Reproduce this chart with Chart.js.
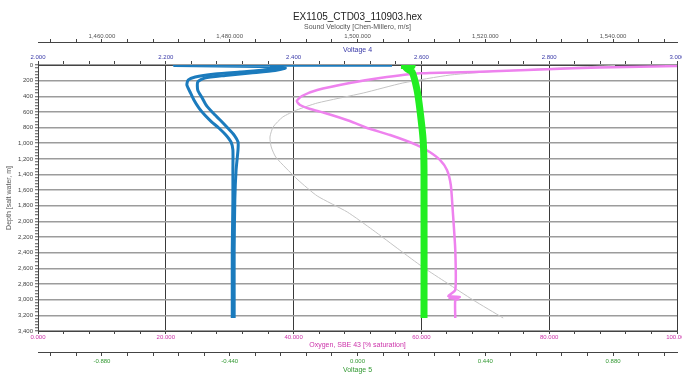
<!DOCTYPE html>
<html>
<head>
<meta charset="utf-8">
<title>EX1105_CTD03_110903.hex</title>
<script src="https://cdn.jsdelivr.net/npm/chart.js@4.4.1/dist/chart.umd.min.js"></script>
<style>
  html, body { margin: 0; padding: 0; background: #fff; overflow: hidden; }
  #wrap { width: 682px; height: 374px; overflow: hidden; }
</style>
</head>
<body>
<div id="wrap"><canvas id="ctdChart" width="700" height="374"></canvas></div>
<script>
// CTD cast profile: several sensors against depth

// Voltage 4 (blue), down and up cast
const v4DepthA = [4, 6, 19, 38, 64, 89, 115, 153, 192, 256, 345, 447, 550, 639, 729, 805, 895, 984, 1086, 1342, 1726, 2365, 3004, 3234];
const v4ValA = [2.554, 2.214, 2.347, 2.379, 2.355, 2.316, 2.277, 2.246, 2.235, 2.233, 2.238, 2.244, 2.252, 2.261, 2.272, 2.283, 2.294, 2.302, 2.305, 2.305, 2.305, 2.304, 2.304, 2.304];
const v4DepthB = [13, 38, 70, 102, 134, 166, 217, 320, 422, 524, 614, 703, 805, 895, 984, 1086, 1342, 1726, 2365, 3004, 3234];
const v4ValB = [2.363, 2.387, 2.371, 2.332, 2.293, 2.261, 2.250, 2.250, 2.257, 2.264, 2.274, 2.285, 2.297, 2.307, 2.313, 2.313, 2.310, 2.308, 2.307, 2.307, 2.307];

// Voltage 5 (green)
const v5Depth = [6, 13, 38, 89, 320, 575, 959, 1342, 3234];
const v5Val = [0.150, 0.188, 0.167, 0.188, 0.205, 0.215, 0.226, 0.229, 0.229];

// Oxygen, SBE 43 (% saturation)
const oxDepth = [13, 32, 55, 86, 106, 166, 230, 320, 396, 460, 511, 562, 614, 716, 805, 895, 1023, 1112, 1214, 1342, 1534, 1853, 2365, 2876, 2953, 2965, 2978, 2991, 3004, 3234];
const oxVal = [100.5, 87.9, 79.7, 69.2, 59.8, 53.5, 48.8, 43.7, 41.3, 40.5, 41.0, 42.6, 44.9, 48.8, 51.5, 55.1, 59.3, 61.3, 62.9, 64.0, 64.6, 64.9, 65.3, 65.3, 64.2, 66.0, 64.4, 65.8, 65.3, 65.3];

// Sound velocity (Chen-Millero, m/s)
const svDepth = [6, 38, 77, 128, 230, 358, 486, 575, 665, 792, 920, 1048, 1176, 1317, 1470, 1674, 1879, 2109, 2365, 2582, 2786, 3004, 3234];
const svVal = [1540.3, 1531.7, 1522.3, 1514.5, 1507.1, 1500.9, 1493.7, 1490.5, 1488.3, 1486.8, 1486.3, 1486.5, 1487.2, 1488.8, 1490.7, 1493.7, 1498.4, 1502.4, 1506.6, 1510.2, 1514.0, 1518.1, 1522.8];

// labelled ticks per axis
const svTicks = [1460, 1480, 1500, 1520, 1540];
const v4Ticks = [2.0, 2.2, 2.4, 2.6, 2.8, 3.0];
const oxTicks = [0, 20, 40, 60, 80, 100];
const v5Ticks = [-0.88, -0.44, 0, 0.44, 0.88];
const depthTicks = [0, 200, 400, 600, 800, 1000, 1200, 1400, 1600, 1800, 2000, 2200, 2400, 2600, 2800, 3000, 3200, 3400];

Chart.defaults.font.family = "'Liberation Sans', Arial, sans-serif";

const pts = (xs, ys) => xs.map((x, i) => ({ x: x, y: ys[i] }));

// labelled ticks plus 4 unlabelled ones in every gap
function tickList(majors, step, min, max) {
    const out = [];
    for (let v = majors[0]; v >= min - 1e-9; v -= step) out.unshift(v);
    for (let k = 1; ; k++) {
        const v = majors[0] + k * step;
        if (v > max + 1e-9) break;
        out.push(v);
    }
    return out.map(v => {
        const r = Math.round(v * 1e6) / 1e6;
        return { value: Math.abs(r) < 1e-9 ? 0 : r };
    });
}
const isMajor = (v, majors) => majors.some(m => Math.abs(m - v) < 1e-6);
const fmt3 = v => (Math.abs(v) < 1e-9 ? 0 : v).toLocaleString('en-US', { minimumFractionDigits: 3, maximumFractionDigits: 3 });

function xAxis(o) {
    return {
        type: 'linear',
        position: o.position,
        weight: o.weight,
        min: o.min,
        max: o.max,
        afterBuildTicks: axis => { axis.ticks = tickList(o.majors, o.step, o.min, o.max); },
        afterFit: axis => { axis.height = o.height; },
        grid: {
            drawOnChartArea: !!o.gridOn,
            color: ctx => (ctx.tick && isMajor(ctx.tick.value, o.majors)) ? '#3a3a3a' : 'rgba(0,0,0,0)',
            lineWidth: 1,
            tickLength: o.tickLength,
            tickColor: '#444',
            tickWidth: 1
        },
        border: { color: '#444', width: 1 },
        ticks: {
            autoSkip: false,
            maxRotation: 0,
            padding: o.tickPad,
            color: o.color,
            font: { size: 6 },
            callback: v => isMajor(v, o.majors) ? fmt3(v) : ''
        },
        title: {
            display: true,
            text: o.title,
            color: o.color,
            font: { size: 7 },
            padding: o.titlePad
        }
    };
}

new Chart(document.getElementById('ctdChart'), {
    type: 'line',
    data: {
        datasets: [
            { label: 'Voltage 5', data: pts(v5Val, v5Depth), xAxisID: 'xV5', borderColor: '#22ee22', borderWidth: 7, tension: 0.2 },
            { label: 'Voltage 4', data: pts(v4ValA, v4DepthA), xAxisID: 'xV4', borderColor: '#1b7bbd', borderWidth: 3, tension: 0.2 },
            { label: 'Voltage 4 (up)', data: pts(v4ValB, v4DepthB), xAxisID: 'xV4', borderColor: '#1b7bbd', borderWidth: 3, tension: 0.2 },
            { label: 'Oxygen', data: pts(oxVal, oxDepth), xAxisID: 'xOx', borderColor: '#ee82ee', borderWidth: 2.5, tension: 0.2 },
            { label: 'Sound Velocity', data: pts(svVal, svDepth), xAxisID: 'xSv', borderColor: '#c4c4c4', borderWidth: 1, tension: 0.2 }
        ]
    },
    options: {
        responsive: false,
        animation: false,
        layout: { padding: { top: 0, left: 0, right: 23, bottom: 0 } },
        elements: { point: { radius: 0 } },
        plugins: {
            legend: { display: false },
            tooltip: { enabled: false },
            title: {
                display: true,
                fullSize: false,
                text: 'EX1105_CTD03_110903.hex',
                color: '#222',
                font: { size: 10, weight: 'normal', lineHeight: 1 },
                padding: { top: 12, bottom: 1 }
            }
        },
        scales: {
            xSv: xAxis({ position: 'top', weight: 1, min: 1450, max: 1550, majors: svTicks, step: 4, height: 19,
                tickLength: 3, tickPad: -1, color: '#555', title: 'Sound Velocity [Chen-Millero, m/s]', titlePad: { top: 0, bottom: 0 } }),
            xV4: xAxis({ position: 'top', weight: 0, min: 2.0, max: 3.0, majors: v4Ticks, step: 0.04, height: 23, gridOn: true,
                tickLength: 4, tickPad: 0, color: '#3a3aa8', title: 'Voltage 4', titlePad: { top: 4, bottom: 0 } }),
            xOx: xAxis({ position: 'bottom', weight: 0, min: 0, max: 100, majors: oxTicks, step: 4, height: 21,
                tickLength: 3, tickPad: 0, color: '#cc33aa', title: 'Oxygen, SBE 43 [% saturation]', titlePad: { top: 0, bottom: 3 } }),
            xV5: xAxis({ position: 'bottom', weight: 1, min: -1.1, max: 1.1, majors: v5Ticks, step: 0.088, height: 22,
                tickLength: 4, tickPad: 2, color: '#339933', title: 'Voltage 5', titlePad: { top: 0, bottom: 0 } }),
            y: {
                type: 'linear',
                position: 'left',
                reverse: true,
                min: 0,
                max: 3400,
                afterBuildTicks: axis => { axis.ticks = tickList(depthTicks, 40, 0, 3400); },
                afterFit: axis => { axis.width = 38; },
                grid: {
                    color: ctx => (ctx.tick && isMajor(ctx.tick.value, depthTicks)) ? '#9c9c9c' : 'rgba(0,0,0,0)',
                    lineWidth: 1.5,
                    tickLength: 3,
                    tickColor: '#555',
                    tickWidth: 1
                },
                border: { color: '#444', width: 1 },
                ticks: {
                    autoSkip: false,
                    padding: 2,
                    color: '#444',
                    font: { size: 6 },
                    callback: v => isMajor(v, depthTicks) ? v.toLocaleString('en-US') : ''
                },
                title: {
                    display: true,
                    text: 'Depth [salt water, m]',
                    color: '#555',
                    font: { size: 7 },
                    padding: { top: 5, bottom: 0 }
                }
            }
        }
    }
});
</script>
</body>
</html>
